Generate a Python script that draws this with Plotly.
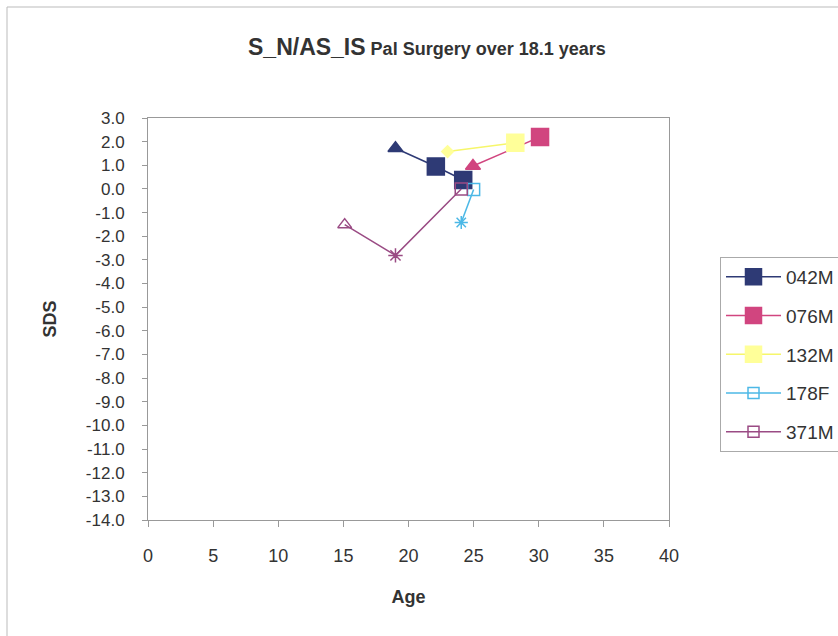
import plotly.graph_objects as go

# ---- data ----
series_names = ["042M", "076M", "132M", "178F", "371M"]
x_042M = [19.0, 22.1, 24.2]
y_042M = [1.72, 0.95, 0.38]
x_076M = [24.95, 30.1]
y_076M = [0.97, 2.2]
x_132M = [23.0, 28.2]
y_132M = [1.58, 1.95]
x_178F = [24.05, 25.0]
y_178F = [-1.42, -0.02]
x_371M = [15.1, 19.0, 24.05]
y_371M = [-1.51, -2.81, 0.0]

x_tick_vals = [0, 5, 10, 15, 20, 25, 30, 35, 40]
y_tick_vals = list(range(3, -15, -1))
y_tick_labels = ["%.1f" % v for v in y_tick_vals]

# ---- styling ----
FONT = "Liberation Sans, Arial, sans-serif"
TXT = "#333333"
series_style = {
    "042M": dict(color="#2E3A75", line="#2E3A75", sym=["triangle-up", "square", "square"], size=[13, 17, 17]),
    "076M": dict(color="#D1457F", line="#D1457F", sym=["triangle-up", "square"], size=[13, 17]),
    "132M": dict(color="#FFFF99", line="#F6F66A", sym=["diamond", "square"], size=[9, 17]),
    "178F": dict(color="#4CB8E6", line="#4CB8E6", sym=["asterisk-open", "square-open"], size=[11, 12]),
    "371M": dict(color="#9A4B84", line="#9A4B84", sym=["triangle-up-open", "asterisk-open", "square-open"], size=[12, 12, 12]),
}
legend_sym = {"042M": ("square", 16), "076M": ("square", 16), "132M": ("square", 16),
              "178F": ("square-open", 11), "371M": ("square-open", 11)}

data = {"042M": (x_042M, y_042M), "076M": (x_076M, y_076M), "132M": (x_132M, y_132M),
        "178F": (x_178F, y_178F), "371M": (x_371M, y_371M)}

fig = go.Figure()
for name in series_names:
    xs, ys = data[name]
    st = series_style[name]
    fig.add_trace(go.Scatter(
        x=xs, y=ys, mode="lines+markers", name=name, showlegend=False,
        line=dict(color=st["line"], width=1.5),
        marker=dict(symbol=st["sym"], size=st["size"], color=st["color"], opacity=1,
                    line=dict(color=st["color"], width=1.5)),
    ))
for name in series_names:
    st = series_style[name]
    sym, sz = legend_sym[name]
    fig.add_trace(go.Scatter(
        x=[None], y=[None], mode="lines+markers", name=name, legendgroup=name,
        line=dict(color=st["line"], width=1.5),
        marker=dict(symbol=sym, size=sz, color=st["color"], opacity=1,
                    line=dict(color=st["color"], width=1.5)),
    ))

W, H = 838, 636
L, R, T, B = 148, 669, 118, 520
pw, ph = R - L, B - T

def px_x(p):
    return (p - L) / pw

def px_y(p):
    return (B - p) / ph

fig.update_layout(
    width=W, height=H,
    margin=dict(l=L, r=W - R, t=T, b=H - B, pad=0),
    paper_bgcolor="white", plot_bgcolor="white",
    font=dict(family=FONT, size=17, color=TXT),
    showlegend=True,
    legend=dict(
        xref="container", yref="container",
        x=720 / W, y=1 - 257 / H, xanchor="left", yanchor="top",
        bordercolor="#AAAAAA", borderwidth=1, bgcolor="white",
        font=dict(family=FONT, size=19, color=TXT),
        tracegroupgap=11, itemwidth=55,
    ),
    xaxis=dict(
        range=[0, 40], tickvals=x_tick_vals, ticks="outside", ticklen=6,
        tickcolor="#999999", showgrid=False, zeroline=False,
        showline=True, linecolor="#999999", linewidth=1, mirror=True,
        tickfont=dict(size=18, color=TXT), ticklabelstandoff=13,
        title=dict(text="<b>Age</b>", font=dict(size=18, color=TXT), standoff=25),
    ),
    yaxis=dict(
        range=[-14, 3], tickvals=y_tick_vals, ticktext=y_tick_labels,
        ticks="outside", ticklen=5, tickcolor="#999999",
        showgrid=False, zeroline=False,
        showline=True, linecolor="#999999", linewidth=1, mirror=True,
        tickfont=dict(size=17, color=TXT), ticklabelstandoff=14,
        title=dict(text="<b>SDS</b>", font=dict(size=18, color=TXT), standoff=24),
    ),
    annotations=[dict(
        xref="paper", yref="paper", x=px_x(427), y=px_y(47),
        xanchor="center", yanchor="middle", showarrow=False,
        text="<b><span style='font-size:23px'>S_N/AS_IS</span> Pal Surgery over 18.1 years</b>",
        font=dict(family=FONT, size=18, color=TXT),
    )],
    shapes=[dict(
        type="rect", xref="paper", yref="paper", layer="below",
        x0=px_x(7), x1=px_x(860), y0=px_y(660), y1=px_y(7),
        line=dict(color="#BBBBBB", width=1), fillcolor="rgba(0,0,0,0)",
    )],
)

fig.write_html("out.html", config={"displayModeBar": False},
               post_script="document.body.style.margin='0';document.body.style.overflow='hidden';")
